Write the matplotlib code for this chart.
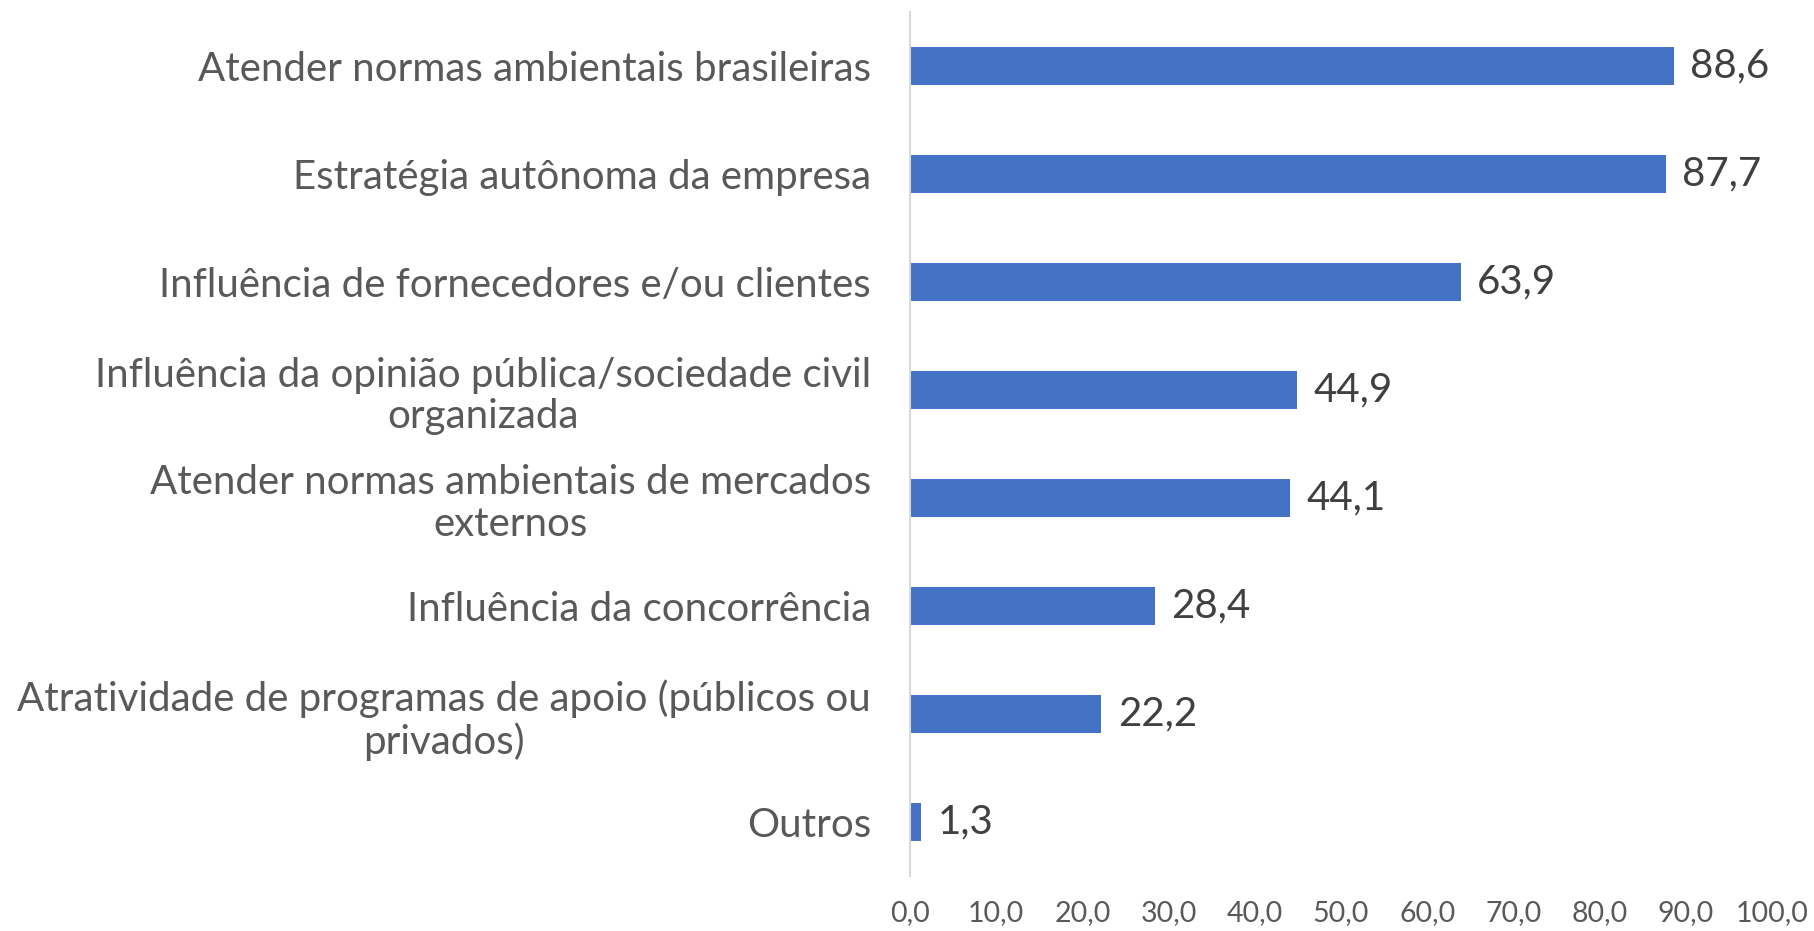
import matplotlib
matplotlib.use("Agg")
import matplotlib.pyplot as plt
import numpy as np

categories = [
    "Atender normas ambientais brasileiras",
    "Estratégia autônoma da empresa",
    "Influência de fornecedores e/ou clientes",
    "Influência da opinião pública/sociedade civil\norganizada",
    "Atender normas ambientais de mercados\nexternos",
    "Influência da concorrência",
    "Atratividade de programas de apoio (públicos ou\nprivados)",
    "Outros",
]
values = [88.6, 87.7, 63.9, 44.9, 44.1, 28.4, 22.2, 1.3]
xticks = [0, 10, 20, 30, 40, 50, 60, 70, 80, 90, 100]

plt.rcParams['font.family'] = ['Lato', 'DejaVu Sans']

fig = plt.figure(figsize=(18.14, 9.31), dpi=100)
ax = fig.add_axes([910/1814, 1 - 876/931, (1772-910)/1814, (876-12)/931])

y = np.arange(len(categories))
ax.barh(y, values, height=0.35, color="#4472C4")
ax.set_ylim(len(categories) - 0.5, -0.5)
ax.set_xlim(0, 100)

for yi, v in zip(y, values):
    ax.text(v + 1.9, yi, f"{v:.1f}".replace(".", ","), va="center", ha="left",
            fontsize=29, color="#404040")

ax.set_yticks(y)
ax.set_yticklabels(categories, fontsize=29, color="#595959", multialignment="center",
                   linespacing=1.15)
ax.set_xticks(xticks)
ax.set_xticklabels([f"{t:.1f}".replace(".", ",") for t in xticks], fontsize=20.5, color="#595959")
ax.tick_params(axis="y", length=0, pad=28)
ax.tick_params(axis="x", length=0, pad=17)

for s in ["top", "right", "bottom"]:
    ax.spines[s].set_visible(False)
ax.spines["left"].set_color("#D9D9D9")
ax.spines["left"].set_linewidth(1.5)

fig.savefig("out.png", dpi=100, facecolor="white")
